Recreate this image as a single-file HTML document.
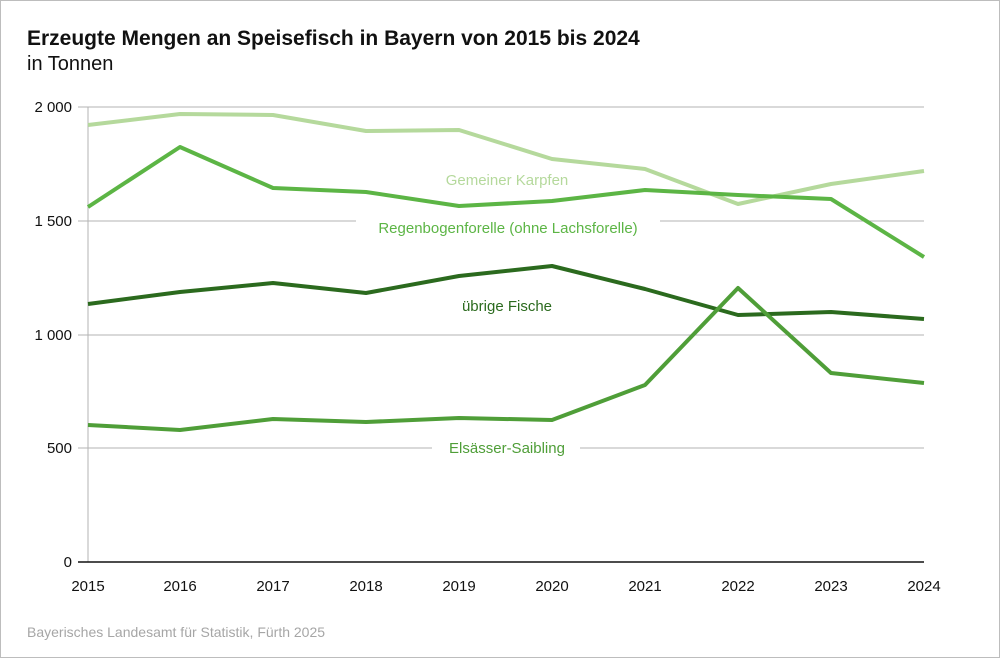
<!DOCTYPE html>
<html><head><style>
body{margin:0;background:#fff}
svg text{font-family:"Liberation Sans",sans-serif}
</style></head><body>
<svg width="1000" height="658" xmlns="http://www.w3.org/2000/svg">
<rect x="0.5" y="0.5" width="999" height="657" fill="#fff" stroke="#bdbdbd"/>
<text x="27" y="45" font-size="21" font-weight="bold" fill="#111">Erzeugte Mengen an Speisefisch in Bayern von 2015 bis 2024</text>
<text x="27" y="70" font-size="20" fill="#111">in Tonnen</text>
<g stroke="#b3b3b3" stroke-width="1">
<line x1="78" y1="107" x2="924" y2="107"/>
<line x1="78" y1="221" x2="356" y2="221"/><line x1="660" y1="221" x2="924" y2="221"/>
<line x1="78" y1="335" x2="924" y2="335"/>
<line x1="78" y1="448" x2="432" y2="448"/><line x1="580" y1="448" x2="924" y2="448"/>
<line x1="88" y1="107" x2="88" y2="562"/>
</g>
<line x1="78" y1="562" x2="924" y2="562" stroke="#111" stroke-width="1.5"/>
<g font-size="15" fill="#111" text-anchor="end">
<text x="72" y="112">2 000</text><text x="72" y="226">1 500</text><text x="72" y="340">1 000</text><text x="72" y="453">500</text><text x="72" y="567">0</text>
</g>
<g font-size="15" fill="#111" text-anchor="middle">
<text x="88" y="591">2015</text><text x="180" y="591">2016</text><text x="273" y="591">2017</text><text x="366" y="591">2018</text><text x="459" y="591">2019</text><text x="552" y="591">2020</text><text x="645" y="591">2021</text><text x="738" y="591">2022</text><text x="831" y="591">2023</text><text x="924" y="591">2024</text>
</g>
<g fill="none" stroke-width="4" stroke-linejoin="round">
<polyline stroke="#b5d99c" points="88,125 180,114 273,115 366,131 459,130 552,159 645,169 738,204 831,184 924,171"/>
<polyline stroke="#5cb545" points="88,207 180,147 273,188 366,192 459,206 552,201 645,190 738,195 831,199 924,257"/>
<polyline stroke="#2b6a1e" points="88,304 180,292 273,283 366,293 459,276 552,266 645,289 738,315 831,312 924,319"/>
<polyline stroke="#4f9e38" points="88,425 180,430 273,419 366,422 459,418 552,420 645,385 738,288 831,373 924,383"/>
</g>
<g font-size="15" text-anchor="middle">
<text x="507" y="185" fill="#b5d99c">Gemeiner Karpfen</text>
<text x="508" y="233" fill="#5cb545">Regenbogenforelle (ohne Lachsforelle)</text>
<text x="507" y="311" fill="#2b6a1e">übrige Fische</text>
<text x="507" y="453" fill="#4f9e38">Elsässer-Saibling</text>
</g>
<text x="27" y="637" font-size="14" fill="#a6a6a6">Bayerisches Landesamt für Statistik, Fürth 2025</text>
</svg>
</body></html>
